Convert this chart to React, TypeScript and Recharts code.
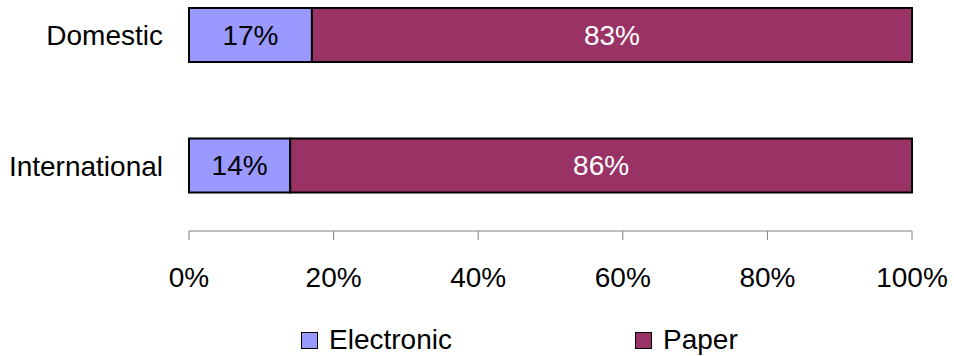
import React from 'react';
import { BarChart, Bar, XAxis, YAxis, Legend, LabelList } from 'recharts';

const categories = ['Domestic', 'International'];
const electronic = [17, 14];
const paper = [83, 86];
const xTicks = [0, 20, 40, 60, 80, 100];

const data = categories.map((name, i) => ({ name, Electronic: electronic[i], Paper: paper[i] }));

const FONT = '"Liberation Sans", Arial, sans-serif';

const legendItems = [
  { name: 'Electronic', color: '#9999FF', left: 301 },
  { name: 'Paper', color: '#993366', left: 635 },
];

const ChartLegend = () => (
  <div style={{ position: 'relative', width: 954, height: 36 }}>
    {legendItems.map(item => (
      <div
        key={item.name}
        style={{ position: 'absolute', left: item.left, top: 1, height: 36, display: 'flex', alignItems: 'center' }}
      >
        <span
          style={{
            display: 'inline-block',
            width: 15,
            height: 15,
            background: item.color,
            border: '1.5px solid #000',
            marginRight: 11,
          }}
        />
        <span style={{ fontSize: 28, color: '#000', fontFamily: FONT }}>{item.name}</span>
      </div>
    ))}
  </div>
);

export default function App() {
  return (
    <div style={{ position: 'absolute', left: 0, top: -30, fontFamily: FONT }}>
      <BarChart
        width={954}
        height={386}
        data={data}
        layout="vertical"
        margin={{ top: 0, right: 42, bottom: 65, left: 0 }}
        barSize={54}
      >
        <XAxis
          type="number"
          domain={[0, 100]}
          ticks={xTicks}
          tickFormatter={(v: number) => `${v}%`}
          height={60}
          tickSize={9}
          tickMargin={27}
          stroke="#808080"
          tick={{ fill: '#000', fontSize: 28 }}
        />
        <YAxis
          type="category"
          dataKey="name"
          width={189}
          axisLine={false}
          tickLine={false}
          tickSize={0}
          tickMargin={26}
          tick={{ fill: '#000', fontSize: 28 }}
        />
        <Legend
          layout="horizontal"
          verticalAlign="middle"
          align="center"
          wrapperStyle={{ top: 351, left: 0, width: 954, height: 36 }}
          content={() => <ChartLegend />}
        />
        <Bar dataKey="Electronic" stackId="a" fill="#9999FF" stroke="#000" strokeWidth={2} isAnimationActive={false}>
          <LabelList dataKey="Electronic" position="center" formatter={(v: number) => `${v}%`} fill="#000" fontSize={28} />
        </Bar>
        <Bar dataKey="Paper" stackId="a" fill="#993366" stroke="#000" strokeWidth={2} isAnimationActive={false}>
          <LabelList dataKey="Paper" position="center" formatter={(v: number) => `${v}%`} fill="#fff" fontSize={28} />
        </Bar>
      </BarChart>
    </div>
  );
}
